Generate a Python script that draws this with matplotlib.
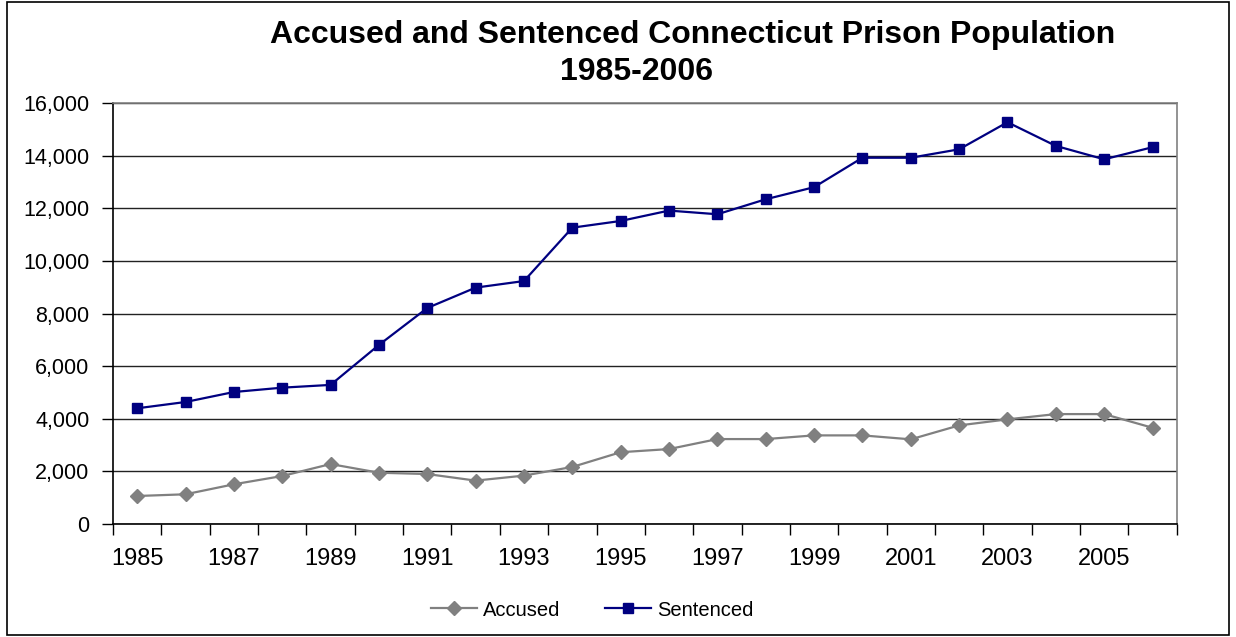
import matplotlib
matplotlib.use("Agg")
import matplotlib.pyplot as plt
from matplotlib.patches import Rectangle
from matplotlib.ticker import FuncFormatter

years = list(range(1985, 2007))
accused = [1065, 1130, 1510, 1825, 2280, 1950, 1900, 1650, 1840, 2170, 2730,
           2850, 3230, 3230, 3370, 3370, 3220, 3750, 3980, 4180, 4180, 3660]
sentenced = [4400, 4640, 5020, 5185, 5290, 6810, 8215, 8990, 9240, 11270, 11525,
             11920, 11780, 12350, 12810, 13930, 13930, 14250, 15280, 14380, 13870, 14330]

plt.rcParams['font.family'] = ['Liberation Sans', 'DejaVu Sans']

fig = plt.figure(figsize=(12.36, 6.37), dpi=100)
ax = fig.add_axes([113 / 1236, 1 - 524 / 637, (1176.7 - 113) / 1236, (524 - 103.3) / 637])

x = list(range(len(years)))
ax.plot(x, accused, color='#808080', lw=1.6, marker='D', ms=7,
        mfc='#808080', mec='#808080', label='Accused', zorder=3)
ax.plot(x, sentenced, color='#000080', lw=1.6, marker='s', ms=7.5,
        mfc='#000080', mec='#000080', label='Sentenced', zorder=4)

# y axis
ax.set_ylim(0, 16000)
ax.set_yticks(range(0, 16001, 2000))
ax.yaxis.set_major_formatter(FuncFormatter(lambda v, p: "{:,.0f}".format(v)))
ax.tick_params(axis='y', direction='out', length=8, width=1, pad=9, labelsize=15.5)
ax.grid(axis='y', color='#222222', lw=1)
ax.set_axisbelow(True)

# x axis: ticks at category edges, labels every other year
ax.set_xlim(-0.5, len(years) - 0.5)
ax.set_xticks([i - 0.5 for i in range(len(years) + 1)])
ax.set_xticklabels([])
ax.set_xticks(x[::2], minor=True)
ax.set_xticklabels([str(y) for y in years[::2]], minor=True)
ax.tick_params(axis='x', which='major', direction='out', length=8, width=1)
ax.tick_params(axis='x', which='minor', length=0, pad=17, labelsize=17)

for s in ['left', 'bottom']:
    ax.spines[s].set_color('black')
    ax.spines[s].set_linewidth(1.2)
for s in ['top', 'right']:
    ax.spines[s].set_color('#808080')
    ax.spines[s].set_linewidth(1.2)

# title
fig.text(693 / 1236, 1 - 43 / 637, 'Accused and Sentenced Connecticut Prison Population',
         ha='center', va='baseline', fontsize=23, fontweight='bold')
fig.text(637 / 1236, 1 - 80 / 637, '1985-2006',
         ha='center', va='baseline', fontsize=23, fontweight='bold')

# legend
fig.legend(loc='center', bbox_to_anchor=(592 / 1236, 1 - 610 / 637), ncol=2,
           frameon=False, fontsize=14.5, handlelength=2.3, handletextpad=0.3,
           columnspacing=2.2, markerscale=1.0)

# chart border
fig.patches.append(Rectangle((7 / 1236, 2 / 637), 1222 / 1236, 633 / 637,
                             transform=fig.transFigure, fill=False,
                             edgecolor='black', lw=1.2))

fig.savefig('out.png', dpi=100)
